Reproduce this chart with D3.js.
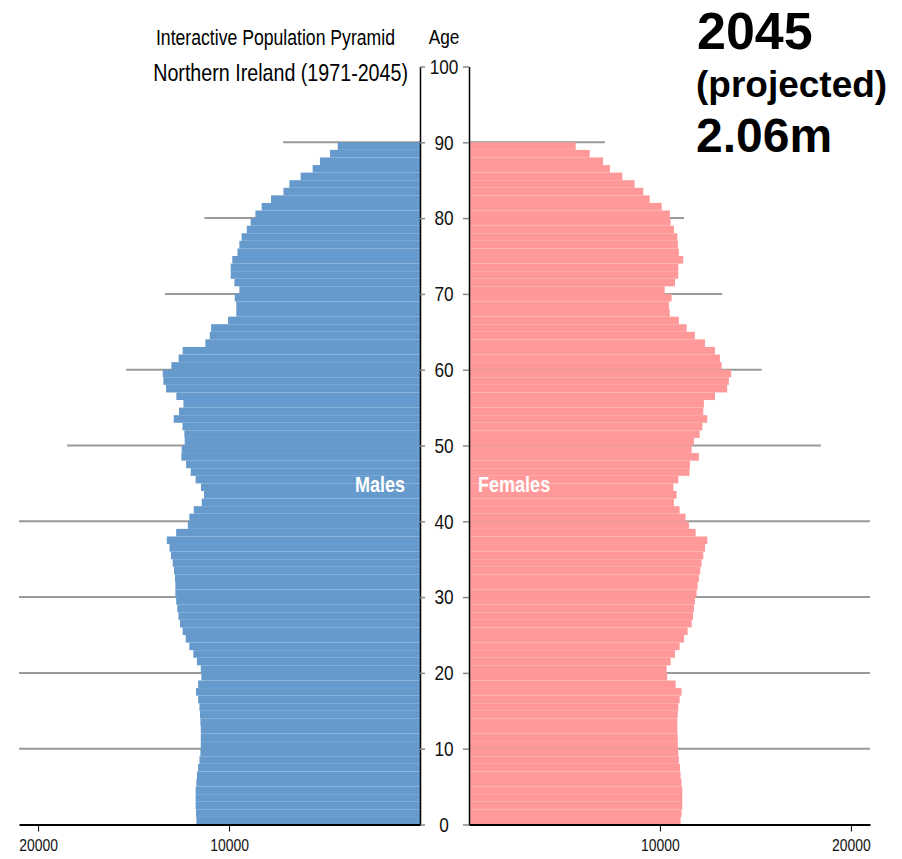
<!DOCTYPE html>
<html>
<head>
<meta charset="utf-8">
<script src="https://cdn.jsdelivr.net/npm/d3@7"></script>
<style>
  body { margin: 0; background: white; }
  svg text { font-family: "Liberation Sans", Arial, sans-serif; }
</style>
</head>
<body>
<div id="pyramid"></div>
<script>
// single year of age, 0 to 89
const ages = d3.range(0, 90);

// projected males by single year of age (2045)
const males = [
  11710, 11730, 11750, 11750, 11750, 11710, 11680, 11620, 11550, 11500,
  11480, 11480, 11480, 11500, 11520, 11550, 11620, 11730, 11620, 11450,
  11480, 11680, 11870, 12080, 12270, 12430, 12570, 12650, 12710, 12770,
  12810, 12810, 12830, 12880, 12950, 13040, 13120, 13260, 12770, 12160,
  12080, 11850, 11430, 11310, 11470, 11750, 12010, 12250, 12500, 12480,
  12320, 12340, 12440, 12900, 12620, 12390, 12760, 13300, 13440, 13470,
  13020, 12640, 12430, 11240, 11010, 10940, 10050, 9620, 9620, 9700,
  9460, 9720, 9910, 9910, 9830, 9560, 9460, 9340, 9070, 8870,
  8620, 8290, 7800, 7150, 6840, 6250, 5620, 5240, 4710, 4310
];

// projected females by single year of age (2045)
const females = [
  11080, 11130, 11170, 11170, 11170, 11130, 11080, 11050, 10990, 10960,
  10940, 10930, 10910, 10910, 10930, 10960, 11030, 11130, 10820, 10380,
  10350, 10560, 10790, 11030, 11260, 11450, 11660, 11730, 11780, 11830,
  11920, 11970, 12040, 12110, 12180, 12270, 12360, 12480, 11870, 11520,
  11340, 11030, 10730, 10870, 10700, 10960, 11550, 11570, 12040, 11660,
  11780, 12080, 12220, 12480, 12270, 12300, 12880, 13520, 13610, 13730,
  13230, 13140, 12880, 12360, 11830, 11400, 10990, 10510, 10470, 10610,
  10250, 10790, 10960, 10960, 11220, 10990, 10940, 10910, 10730, 10560,
  10520, 10090, 9460, 9130, 8670, 8030, 7380, 7020, 6320, 5590
];

// grey marker lines at each decade of age
const markAges = [90, 80, 70, 60, 50, 40, 30, 20, 10];
const markMales = [7170, 11290, 13350, 15390, 18480, 21000, 21000, 21000, 21000];
const markFemales = [7120, 11260, 13260, 15320, 18430, 21000, 21000, 21000, 21000];

const ageTicks = d3.range(0, 101, 10);
const popTicks = [10000, 20000];
const maxPop = 21000;

let width = 902,
    height = 859;

// squeeze text horizontally to get a narrow face
const sx = 0.82;
function narrow(sel) {
  sel.each(function() {
    const t = d3.select(this);
    const x = +t.attr('x') || 0;
    t.attr('x', x / sx).attr('transform', `scale(${sx},1)`);
  });
}

let svg = d3.select('#pyramid')
            .append('svg')
            .attr('width', width)
            .attr('height', height)
            .style('background', 'white');

// scales
const y = d3.scaleLinear()
            .domain([0, 100])
            .range([824.5, 66.5]);

const xLeft = d3.scaleLinear()
                .domain([0, maxPop])
                .range([420, 19]);

const xRight = d3.scaleLinear()
                 .domain([0, maxPop])
                 .range([469, 870]);

const step = y(0) - y(1);

// grey lines behind the bars
svg.append('g')
   .selectAll('line')
   .data(markAges)
   .enter()
   .append('line')
   .attr('x1', (d, i) => xLeft(markMales[i]))
   .attr('x2', xLeft(0))
   .attr('y1', d => y(d))
   .attr('y2', d => y(d))
   .attr('stroke', '#999')
   .attr('stroke-width', 2);

svg.append('g')
   .selectAll('line')
   .data(markAges)
   .enter()
   .append('line')
   .attr('x1', xRight(0))
   .attr('x2', (d, i) => xRight(markFemales[i]))
   .attr('y1', d => y(d))
   .attr('y2', d => y(d))
   .attr('stroke', '#999')
   .attr('stroke-width', 2);

// bars
svg.append('g')
   .selectAll('rect')
   .data(ages)
   .enter()
   .append('rect')
   .attr('x', d => xLeft(males[d]))
   .attr('y', d => y(d + 1))
   .attr('width', d => xLeft(0) - xLeft(males[d]))
   .attr('height', step)
   .attr('fill', '#6699cc');

svg.append('g')
   .selectAll('rect')
   .data(ages)
   .enter()
   .append('rect')
   .attr('x', xRight(0))
   .attr('y', d => y(d + 1))
   .attr('width', d => xRight(females[d]) - xRight(0))
   .attr('height', step)
   .attr('fill', '#ff9999');

// centre age axes
let ageLeft = svg.append('g')
                 .attr('transform', `translate(${xLeft(0)},0)`)
                 .call(d3.axisRight(y).tickValues(ageTicks).tickSize(5).tickSizeOuter(0).tickFormat(''));

let ageRight = svg.append('g')
                  .attr('transform', `translate(${xRight(0)},0)`)
                  .call(d3.axisLeft(y).tickValues(ageTicks).tickSize(6).tickSizeOuter(0).tickPadding(0));

[ageLeft, ageRight].forEach(g => {
  g.select('.domain').attr('stroke', '#000').attr('stroke-width', 1.5);
  g.selectAll('.tick line').attr('stroke', '#888').attr('stroke-width', 1.5);
});

ageRight.selectAll('.tick text')
        .attr('x', -25)
        .attr('text-anchor', 'middle')
        .attr('font-family', 'Liberation Sans, Arial, sans-serif')
        .attr('font-size', '21px')
        .attr('fill', '#111')
        .call(narrow);

// bottom population axes
let popLeft = svg.append('g')
                 .attr('transform', `translate(0,${y(0)})`)
                 .call(d3.axisBottom(xLeft).tickValues(popTicks).tickSize(7).tickSizeOuter(0).tickPadding(7).tickFormat(d3.format('d')));

let popRight = svg.append('g')
                  .attr('transform', `translate(0,${y(0)})`)
                  .call(d3.axisBottom(xRight).tickValues(popTicks).tickSize(7).tickSizeOuter(0).tickPadding(7).tickFormat(d3.format('d')));

[popLeft, popRight].forEach(g => {
  g.select('.domain').attr('stroke', '#000').attr('stroke-width', 2);
  g.selectAll('.tick line').attr('stroke', '#000');
  g.selectAll('.tick text')
   .attr('font-family', 'Liberation Sans, Arial, sans-serif')
   .attr('font-size', '17px')
   .attr('fill', '#111')
   .call(narrow);
});

// titles
svg.append('text')
   .attr('x', 395)
   .attr('y', 45)
   .attr('text-anchor', 'end')
   .attr('font-size', '21.5px')
   .text('Interactive Population Pyramid')
   .call(narrow);

svg.append('text')
   .attr('x', 408)
   .attr('y', 81)
   .attr('text-anchor', 'end')
   .attr('font-size', '24px')
   .text('Northern Ireland (1971-2045)')
   .call(narrow);

svg.append('text')
   .attr('x', 444)
   .attr('y', 44)
   .attr('text-anchor', 'middle')
   .attr('font-size', '21px')
   .text('Age')
   .call(narrow);

// sex labels
svg.append('text')
   .attr('x', 405)
   .attr('y', 492)
   .attr('text-anchor', 'end')
   .attr('font-size', '22px')
   .attr('font-weight', 'bold')
   .attr('fill', 'white')
   .text('Males')
   .call(narrow);

svg.append('text')
   .attr('x', 478)
   .attr('y', 492)
   .attr('font-size', '22px')
   .attr('font-weight', 'bold')
   .attr('fill', 'white')
   .text('Females')
   .call(narrow);

// year and total
const big = svg.append('g')
               .attr('font-weight', 'bold');

big.append('text').attr('x', 697).attr('y', 49).attr('font-size', '52px').text('2045');
big.append('text').attr('x', 696).attr('y', 97).attr('font-size', '37px').text('(projected)');
big.append('text').attr('x', 696).attr('y', 152).attr('font-size', '48px').text('2.06m');
</script>
</body>
</html>
